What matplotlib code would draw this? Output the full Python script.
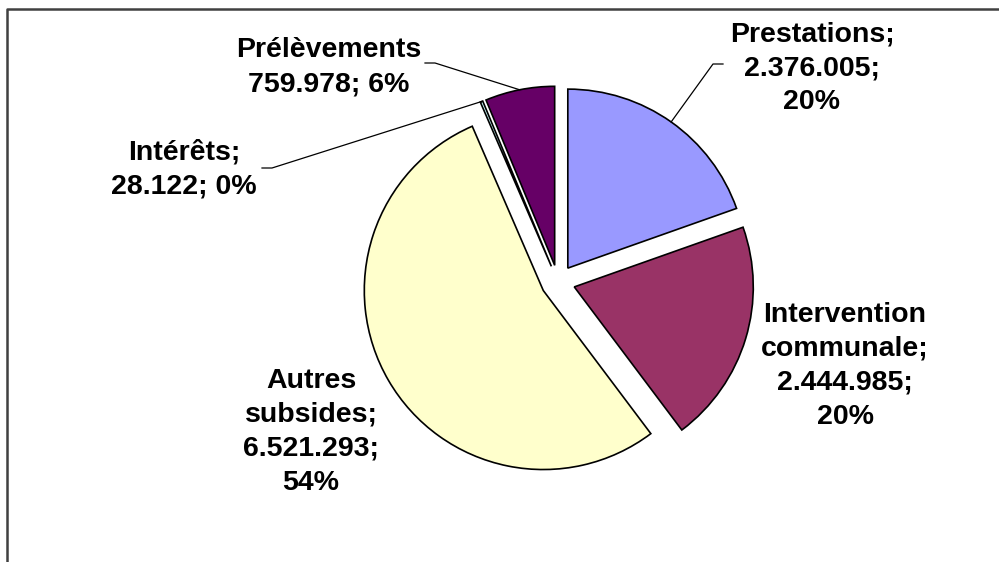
import numpy as np
import matplotlib
matplotlib.use('Agg')
import matplotlib.pyplot as plt

# data
noms = ['Prestations', 'Intervention\ncommunale', 'Autres\nsubsides', 'Intérêts', 'Prélèvements']
valeurs = [2376005, 2444985, 6521293, 28122, 759978]
couleurs = ['#9999FF', '#993366', '#FFFFCC', '#CCFFFF', '#660066']
gabarits = ['{n};\n{v};\n{p}', '{n};\n{v};\n{p}', '{n};\n{v};\n{p}', '{n};\n{v}; {p}', '{n}\n{v}; {p}']

W, H = 999, 562
fig = plt.figure(figsize=(W / 100, H / 100), dpi=100)
ax = fig.add_axes([0, 0, 1, 1])

total = sum(valeurs)
cx, cy = 558, H - 282
rayon = 179
ecart = 17

wedges, _ = ax.pie(valeurs, colors=couleurs, startangle=90, counterclock=False,
                   radius=rayon, center=(cx, cy), explode=[ecart] * len(valeurs),
                   wedgeprops=dict(edgecolor='black', linewidth=1.2))
ax.set_xlim(0, W)
ax.set_ylim(0, H)
ax.set_aspect('equal')
ax.axis('off')

# label positions (pixels, centre of text block) and leader elbow
pos_lab = [(812, 68), (845, 366), (311, 432), (184, 169), (329, 67)]
coudes = [(713, 64, 723), None, None, (272, 168, 262), (435, 63, 425)]

for i, w in enumerate(wedges):
    pct = 100 * valeurs[i] / total
    txt = gabarits[i].format(n=noms[i], v=f'{valeurs[i]:,}'.replace(',', '.'), p=f'{pct:.0f}%')
    x, y = pos_lab[i]
    ax.text(x, H - y, txt, ha='center', va='center', fontsize=20.5, fontweight='bold',
            family=['Liberation Sans', 'DejaVu Sans'], linespacing=1.4)
    if coudes[i] is not None:
        t = np.deg2rad((w.theta1 + w.theta2) / 2)
        ox, oy = w.center
        px = ox + w.r * np.cos(t)
        py = oy + w.r * np.sin(t)
        ex, ey, fx = coudes[i]
        ax.plot([px, ex, fx], [py, H - ey, H - ey], color='black', linewidth=0.9)

# chart frame (cut by the image on right and bottom)
ax.plot([7, 7, W + 5], [-5, H - 9, H - 9], color='#404040', linewidth=1.8, clip_on=False)

fig.savefig('out.png', dpi=100)
